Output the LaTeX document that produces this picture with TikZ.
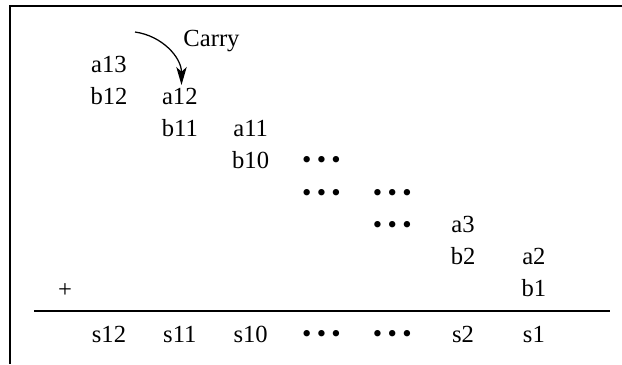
\documentclass[tikz,border=0pt]{standalone}
\usepackage{fontspec}
\setmainfont{Liberation Serif}
\usepackage{tikz}
\usetikzlibrary{positioning,arrows.meta}
\newcommand{\bigdot}{\raisebox{-0.4pt}{\fontsize{19}{19}\selectfont\textbullet}}
\newcommand{\dotrow}{\bigdot\hspace{3.8pt}\bigdot\hspace{3.8pt}\bigdot}
\tikzset{
  cell/.style={inner sep=0pt, text height=11pt, text depth=0pt, font=\fontsize{17.5}{20}\selectfont},
  frame/.style={line width=1.7pt},
  rule/.style={line width=1.6pt},
  carryarrow/.style={-{Stealth[length=4.5mm, width=2.6mm, inset=1.2mm]}, line width=0.9pt}
}
\begin{document}
\begin{tikzpicture}[x=0.025cm, y=-0.025cm, node distance=8.03mm and 17.7mm, on grid]
  \useasboundingbox (0,0) rectangle (622,364);
  \draw[frame] (622,6) -| (10,364);
  \node[cell] (a13) at (109,64.3) {a13};
  \node[cell, below=of a13] (b12) {b12};
  \node[cell, right=of b12] (a12) {a12};
  \node[cell, below=of a12] (b11) {b11};
  \node[cell, right=of b11] (a11) {a11};
  \node[cell, below=of a11] (b10) {b10};
  \node[cell, right=of b10] (dotsA) {\dotrow};
  \node[cell, below=of dotsA] (dotsB) {\dotrow};
  \node[cell, right=of dotsB] (dotsC) {\dotrow};
  \node[cell, below=of dotsC] (dotsD) {\dotrow};
  \node[cell, right=of dotsD] (a3) {a3};
  \node[cell, below=of a3] (b2) {b2};
  \node[cell, right=of b2] (a2) {a2};
  \node[cell, below=of a2] (b1) {b1};
  \node[cell] (plus) at (65,289.3) {+};
  \node[cell, below=11.33mm of b1] (s1) {s1};
  \node[cell, left=of s1] (s2) {s2};
  \node[cell, left=of s2] (dotsE) {\dotrow};
  \node[cell, left=of dotsE] (dotsF) {\dotrow};
  \node[cell, left=of dotsF] (s10) {s10};
  \node[cell, left=of s10] (s11) {s11};
  \node[cell, left=of s11] (s12) {s12};
  \draw[rule] (34,311) -- (610,311);
  \node[cell] (carry) at (211.5,39) {Carry};
  \coordinate (carrystart) at (135,32);
  \coordinate (carryend) at (181.5,85);
  \draw[carryarrow] (carrystart) to[out=-8, in=90] (carryend);
\end{tikzpicture}
\end{document}
